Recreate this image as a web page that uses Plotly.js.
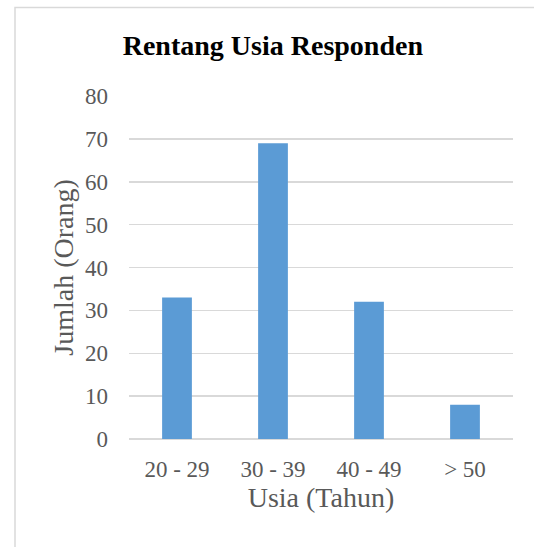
<!DOCTYPE html>
<html>
<head>
<meta charset="utf-8">
<script src="https://cdn.plot.ly/plotly-3.0.1.min.js"></script>
<style>
  html, body { margin: 0; padding: 0; background: #fff; overflow: hidden; }
  #chart { width: 534px; height: 547px; }
</style>
</head>
<body>
<div id="chart"></div>
<script>
const categories = ["20 - 29", "30 - 39", "40 - 49", "> 50"];
const values = [33, 69, 32, 8];
const yTickValues = [0, 10, 20, 30, 40, 50, 60, 70, 80];

const serif = '"Liberation Serif", "Times New Roman", serif';

const trace = {
  type: 'bar',
  x: categories,
  y: values,
  marker: { color: '#5b9bd5' },
  hoverinfo: 'x+y'
};

const layout = {
  width: 534,
  height: 547,
  margin: { l: 129, r: 21, t: 96, b: 108 },
  paper_bgcolor: '#ffffff',
  plot_bgcolor: '#ffffff',
  bargap: 0.69,
  showlegend: false,
  title: {
    text: '<b>Rentang Usia Responden</b>',
    font: { family: serif, size: 28, color: '#000000' },
    x: 0.511, xanchor: 'center',
    y: 1 - 45 / 547, yref: 'container', yanchor: 'middle'
  },
  xaxis: {
    type: 'category',
    showgrid: false,
    showline: false,
    zeroline: false,
    ticks: '',
    tickfont: { family: serif, size: 23, color: '#595959' },
    ticklabelstandoff: 14,
    title: {
      text: 'Usia (Tahun)',
      font: { family: serif, size: 28, color: '#595959' },
      standoff: 5
    }
  },
  yaxis: {
    range: [0, 80],
    tickvals: yTickValues,
    showgrid: true,
    gridcolor: '#d9d9d9',
    gridwidth: 1.5,
    zeroline: true,
    zerolinecolor: '#d9d9d9',
    zerolinewidth: 1.5,
    showline: false,
    ticks: '',
    tickfont: { family: serif, size: 23, color: '#595959' },
    ticklabelstandoff: 20,
    title: {
      text: 'Jumlah (Orang)',
      font: { family: serif, size: 28, color: '#595959' },
      standoff: 3
    }
  },
  shapes: [{
    type: 'rect',
    xref: 'paper', yref: 'paper',
    x0: (15 - 129) / 384, x1: 1.3,
    y0: -0.5, y1: (439 - 7.5) / 343,
    line: { color: '#d9d9d9', width: 1.5 },
    fillcolor: 'rgba(0,0,0,0)',
    layer: 'below'
  }]
};

Plotly.newPlot('chart', [trace], layout, { displayModeBar: false, staticPlot: true });
</script>
</body>
</html>
